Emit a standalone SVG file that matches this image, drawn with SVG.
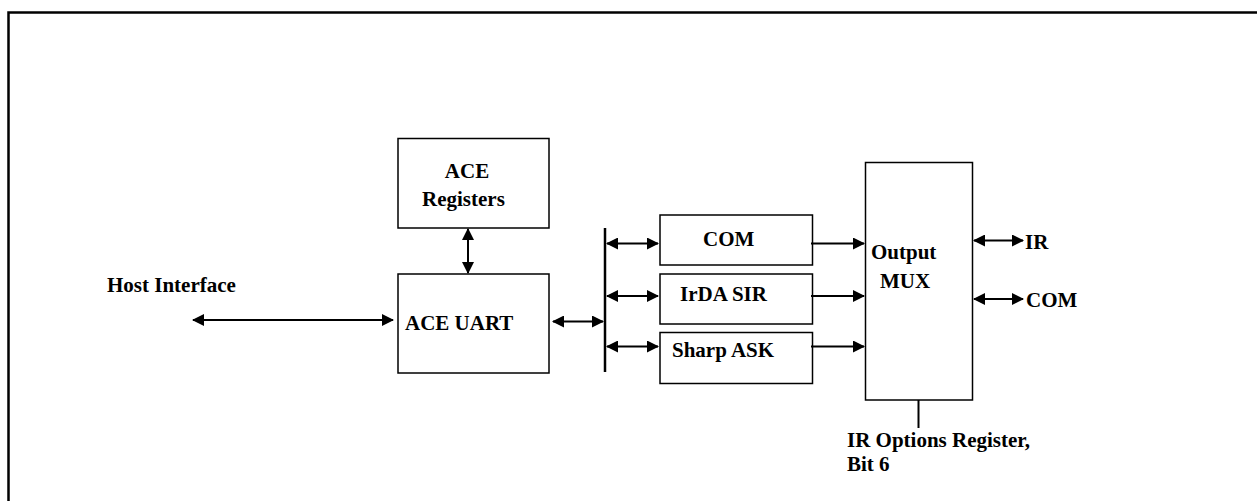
<svg xmlns="http://www.w3.org/2000/svg" width="1257" height="501" viewBox="0 0 1257 501">
<style>
.box{fill:#fff;stroke:#000;stroke-width:1.5}
.t{font-family:"Liberation Serif","Times New Roman",serif;font-weight:bold;font-size:21px;fill:#000}
.ln{stroke:#000;stroke-width:2;fill:none}
.bi{marker-start:url(#ah);marker-end:url(#ah)}
.uni{marker-end:url(#ah)}
</style>
<defs>
<marker id="ah" markerUnits="userSpaceOnUse" markerWidth="12" markerHeight="12" refX="11" refY="6" orient="auto-start-reverse" viewBox="0 0 12 12">
<path d="M0,0 L12,6 L0,12 z" fill="#000"/>
</marker>
</defs>
<rect width="1257" height="501" fill="#fff"/>
<path d="M8.5,501 V12.5 H1257" fill="none" stroke="#000" stroke-width="2.5"/>

<g id="host-interface">
<text class="t" x="107" y="292">Host Interface</text>
</g>
<g id="ace-registers">
<rect class="box" x="398" y="138.5" width="151" height="89.5"/>
<text class="t" x="467" y="178" text-anchor="middle">ACE</text>
<text class="t" x="422" y="206">Registers</text>
</g>
<g id="ace-uart">
<rect class="box" x="398" y="274" width="151" height="99"/>
<text class="t" x="405" y="330">ACE UART</text>
</g>
<g id="bus">
<line x1="605" y1="228" x2="605" y2="372" stroke="#000" stroke-width="2.5"/>
</g>
<g id="com">
<rect class="box" x="660" y="215" width="152.5" height="50"/>
<text class="t" x="703" y="246">COM</text>
</g>
<g id="irda-sir">
<rect class="box" x="660" y="274" width="152.5" height="50"/>
<text class="t" x="680" y="301">IrDA SIR</text>
</g>
<g id="sharp-ask">
<rect class="box" x="660" y="332.5" width="152.5" height="51"/>
<text class="t" x="672" y="357">Sharp ASK</text>
</g>
<g id="output-mux">
<rect class="box" x="865.5" y="162.5" width="107" height="237.5"/>
<text class="t" x="871" y="259">Output</text>
<text class="t" x="880" y="288">MUX</text>
</g>
<g id="ir-label"><text class="t" x="1025" y="249">IR</text></g>
<g id="com-label"><text class="t" x="1026" y="307">COM</text></g>
<g id="ir-options">
<text class="t" x="847" y="447">IR Options Register,</text>
<text class="t" x="847" y="471">Bit 6</text>
</g>

<g id="connectors">
<line class="ln bi" x1="193" y1="320" x2="393" y2="320"/>
<line class="ln bi" x1="468" y1="229" x2="468" y2="273"/>
<line class="ln bi" x1="553" y1="321.5" x2="603" y2="321.5"/>
<line class="ln bi" x1="607" y1="243.5" x2="658" y2="243.5"/>
<line class="ln bi" x1="607" y1="296" x2="658" y2="296"/>
<line class="ln bi" x1="607" y1="346.5" x2="658" y2="346.5"/>
<line class="ln uni" x1="811" y1="243.5" x2="864" y2="243.5"/>
<line class="ln uni" x1="811" y1="296" x2="864" y2="296"/>
<line class="ln uni" x1="811" y1="346.5" x2="864" y2="346.5"/>
<line class="ln bi" x1="974" y1="240.5" x2="1023" y2="240.5"/>
<line class="ln bi" x1="974" y1="299" x2="1023" y2="299"/>
<line class="ln" x1="918.5" y1="400" x2="918.5" y2="428" stroke-width="1.5"/>
</g>
</svg>
